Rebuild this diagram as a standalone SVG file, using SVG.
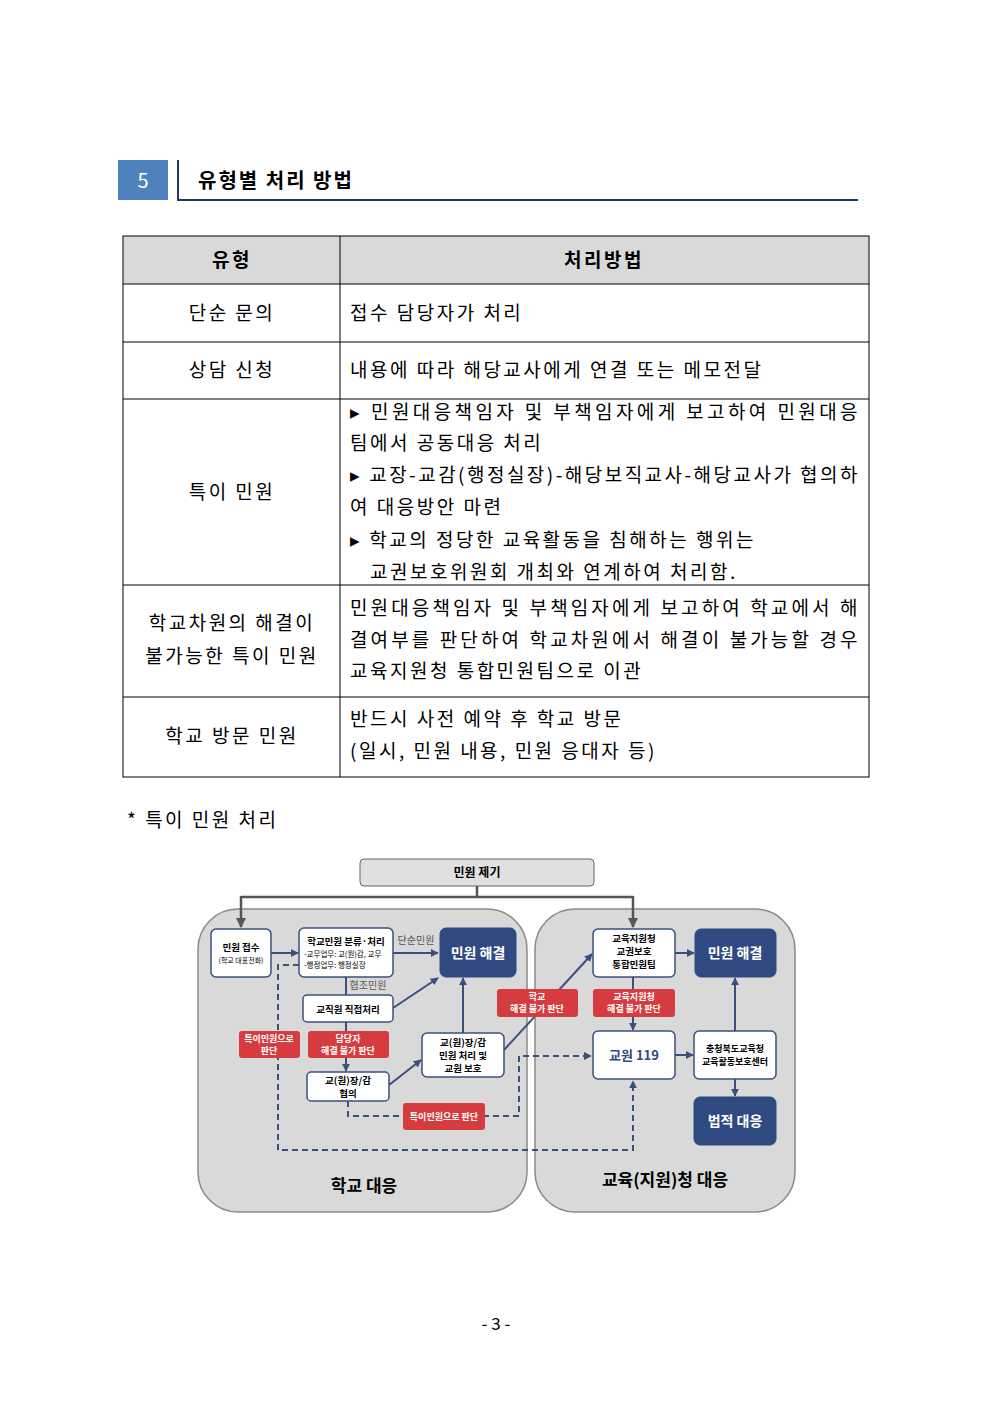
<svg xmlns="http://www.w3.org/2000/svg" width="992" height="1403" viewBox="0 0 992 1403">
<style>
text{font-family:"Noto Sans CJK KR","Noto Sans",sans-serif;fill:#000}
.doc{font-size:19px;letter-spacing:2.5px}
.c{text-anchor:middle}
.wb{fill:#fff;stroke:#3b4f7d;stroke-width:1.5}
.nv{fill:#2f4a80;stroke:#2f4a80}
.rd{fill:#d63c3f}
.s{font-size:9.5px;font-weight:bold;text-anchor:middle}
.rt{font-size:9px;font-weight:bold;fill:#fff;text-anchor:middle}
.nt{font-size:14px;font-weight:bold;fill:#fff;text-anchor:middle}
.ln{stroke:#3b4f7d;stroke-width:2;fill:none}
.ds{stroke:#3b4f7d;stroke-width:2;fill:none;stroke-dasharray:6,4}
.gl{font-size:10px;fill:#555;text-anchor:middle}
</style>
<defs>
<marker id="a" viewBox="0 0 10 10" refX="9" refY="5" markerWidth="4" markerHeight="4" orient="auto"><path d="M0,0L10,5L0,10z" fill="#3b4f7d"/></marker>
<marker id="g" viewBox="0 0 10 10" refX="9" refY="5" markerWidth="4" markerHeight="4" orient="auto"><path d="M0,0L10,5L0,10z" fill="#555"/></marker>
</defs>
<rect width="992" height="1403" fill="#fff"/>
<g id="header">
<rect x="118" y="160" width="50" height="40" fill="#4f81bd"/>
<text x="143" y="188" class="c" style="fill:#fff;font-size:20px">5</text>
<path d="M178,160V200H858" stroke="#1f3864" stroke-width="2" fill="none"/>
<text x="198" y="188" style="font-size:20px;font-weight:bold;letter-spacing:2px">유형별 처리 방법</text>
</g>
<g id="table">
<rect x="123" y="236" width="746" height="48" fill="#d9d9d9"/>
<rect x="123" y="236" width="746" height="541" fill="none" stroke="#000" stroke-width="1"/>
<path d="M340,236V777M123,284H869M123,342H869M123,399H869M123,585H869M123,697H869" stroke="#000" stroke-width="1"/>
<text x="232" y="267" class="doc c" font-weight="bold">유형</text>
<text x="604" y="267" class="doc c" font-weight="bold">처리방법</text>
<text x="232" y="320" class="doc c">단순 문의</text>
<text x="350" y="320" class="doc">접수 담당자가 처리</text>
<text x="232" y="377" class="doc c">상담 신청</text>
<text x="350" y="377" class="doc">내용에 따라 해당교사에게 연결 또는 메모전달</text>
<text x="232" y="499" class="doc c">특이 민원</text>
<text x="350" y="419" class="doc" textLength="510" lengthAdjust="spacing">▸ 민원대응책임자 및 부책임자에게 보고하여 민원대응</text>
<text x="350" y="450" class="doc">팀에서 공동대응 처리</text>
<text x="350" y="482" class="doc" textLength="510" lengthAdjust="spacing">▸ 교장-교감(행정실장)-해당보직교사-해당교사가 협의하</text>
<text x="350" y="514" class="doc">여 대응방안 마련</text>
<text x="350" y="547" class="doc">▸ 학교의 정당한 교육활동을 침해하는 행위는</text>
<text x="370" y="579" class="doc">교권보호위원회 개최와 연계하여 처리함.</text>
<text x="232" y="630" class="doc c">학교차원의 해결이</text>
<text x="232" y="663" class="doc c">불가능한 특이 민원</text>
<text x="350" y="615" class="doc" textLength="510" lengthAdjust="spacing">민원대응책임자 및 부책임자에게 보고하여 학교에서 해</text>
<text x="350" y="647" class="doc" textLength="510" lengthAdjust="spacing">결여부를 판단하여 학교차원에서 해결이 불가능할 경우</text>
<text x="350" y="678" class="doc">교육지원청 통합민원팀으로 이관</text>
<text x="232" y="743" class="doc c">학교 방문 민원</text>
<text x="350" y="726" class="doc">반드시 사전 예약 후 학교 방문</text>
<text x="350" y="758" class="doc">(일시, 민원 내용, 민원 응대자 등)</text>
</g>
<text x="127" y="827" class="doc">* 특이 민원 처리</text>
<g id="panels">
<rect x="198" y="909" width="329" height="303" rx="40" fill="#d9d9d9" stroke="#8a8a8a" stroke-width="1.5"/>
<rect x="535" y="909" width="260" height="303" rx="40" fill="#d9d9d9" stroke="#8a8a8a" stroke-width="1.5"/>
<text x="364" y="1192" class="c" style="font-size:17px;font-weight:bold">학교 대응</text>
<text x="665" y="1186" class="c" style="font-size:17px;font-weight:bold">교육(지원)청 대응</text>
</g>
<g id="connectors">
<path d="M477,886V897H241M477,897H633" stroke="#555" stroke-width="2.5" fill="none"/>
<path d="M241,896V927" stroke="#555" stroke-width="2.5" marker-end="url(#g)"/>
<path d="M633,896V927" stroke="#555" stroke-width="2.5" marker-end="url(#g)"/>
<path d="M271,953H298" class="ln" marker-end="url(#a)"/>
<path d="M393,953H438" class="ln" marker-end="url(#a)"/>
<path d="M346,977V995" class="ln"/>
<path d="M393,1008L438,978" class="ln" marker-end="url(#a)"/>
<path d="M346,1022V1071" class="ln" marker-end="url(#a)"/>
<path d="M389,1085L421,1060" class="ln" marker-end="url(#a)"/>
<path d="M463,1033V978" class="ln" marker-end="url(#a)"/>
<path d="M504,1050L592,954" class="ln" marker-end="url(#a)"/>
<path d="M348,1101V1116H519V1056H591" class="ds" marker-end="url(#a)"/>
<path d="M299,965H278V1150H633V1081" class="ds" marker-end="url(#a)"/>
<path d="M675,953H694" class="ln" stroke-width="3" marker-end="url(#a)"/>
<path d="M633,977V1030" class="ln" marker-end="url(#a)"/>
<path d="M675,1055H693" class="ln" marker-end="url(#a)"/>
<path d="M735,1031V978" class="ln" marker-end="url(#a)"/>
<path d="M735,1079V1096" class="ln" marker-end="url(#a)"/>
<text x="416" y="944" class="gl">단순민원</text>
<text x="368" y="989" class="gl">협조민원</text>
</g>
<g id="n_top"><rect x="360" y="859" width="234" height="27" rx="4" fill="#e0e0e0" stroke="#666"/><text x="477" y="877" class="c" style="font-size:12px;font-weight:bold">민원 제기</text></g>
<g id="n_recv"><rect x="211" y="929" width="60" height="48" rx="5" class="wb"/><text x="241" y="951" class="s">민원 접수</text><text x="241" y="963" class="c" style="font-size:7px">(학교 대표전화)</text></g>
<g id="n_cls"><rect x="299" y="928" width="94" height="49" rx="5" class="wb"/><text x="346" y="945" class="s">학교민원 분류·처리</text><text x="304" y="957" style="font-size:7.5px">-교무업무: 교(원)감, 교무</text><text x="304" y="968" style="font-size:7.5px">-행정업무: 행정실장</text></g>
<g id="n_res1"><rect x="440" y="928" width="76" height="49" rx="6" class="nv"/><text x="478" y="958" class="nt">민원 해결</text></g>
<g id="n_staff"><rect x="303" y="995" width="90" height="27" rx="4" class="wb"/><text x="348" y="1013" class="s">교직원 직접처리</text></g>
<g id="n_cons"><rect x="307" y="1072" width="82" height="29" rx="4" class="wb"/><text x="348" y="1084" class="s">교(원)장/감</text><text x="348" y="1097" class="s">협의</text></g>
<g id="n_prin"><rect x="422" y="1033" width="82" height="44" rx="5" class="wb"/><text x="463" y="1046" class="s">교(원)장/감</text><text x="463" y="1059" class="s">민원 처리 및</text><text x="463" y="1072" class="s">교원 보호</text></g>
<g id="r1"><rect x="239" y="1031" width="61" height="27" rx="3" class="rd"/><text x="269" y="1042" class="rt">특이민원으로</text><text x="269" y="1054" class="rt">판단</text></g>
<g id="r2"><rect x="308" y="1031" width="81" height="27" rx="3" class="rd"/><text x="348" y="1042" class="rt">담당자</text><text x="348" y="1054" class="rt">해결 불가 판단</text></g>
<g id="r3"><rect x="403" y="1103" width="82" height="27" rx="3" class="rd"/><text x="444" y="1120" class="rt">특이민원으로 판단</text></g>
<g id="r4"><rect x="497" y="989" width="81" height="28" rx="3" class="rd"/><text x="537" y="1000" class="rt">학교</text><text x="537" y="1012" class="rt">해결 불가 판단</text></g>
<g id="n_team"><rect x="593" y="929" width="82" height="48" rx="5" class="wb"/><text x="634" y="942" class="s">교육지원청</text><text x="634" y="955" class="s">교권보호</text><text x="634" y="968" class="s">통합민원팀</text></g>
<g id="n_res2"><rect x="695" y="929" width="81" height="48" rx="6" class="nv"/><text x="735" y="958" class="nt">민원 해결</text></g>
<g id="r5"><rect x="593" y="989" width="82" height="28" rx="3" class="rd"/><text x="634" y="1000" class="rt">교육지원청</text><text x="634" y="1012" class="rt">해결 불가 판단</text></g>
<g id="n_119"><rect x="593" y="1031" width="82" height="48" rx="5" class="wb"/><text x="634" y="1060" class="c" style="font-size:13px;font-weight:bold;fill:#2f4a80">교원 119</text></g>
<g id="n_center"><rect x="694" y="1031" width="82" height="48" rx="5" class="wb"/><text x="735" y="1052" class="s" style="font-size:9px">충청북도교육청</text><text x="735" y="1065" class="s" style="font-size:9px">교육활동보호센터</text></g>
<g id="n_legal"><rect x="694" y="1097" width="82" height="48" rx="6" class="nv"/><text x="735" y="1126" class="nt">법적 대응</text></g>
<text x="496" y="1330" class="c" style="font-size:17px">- 3 -</text>
</svg>
